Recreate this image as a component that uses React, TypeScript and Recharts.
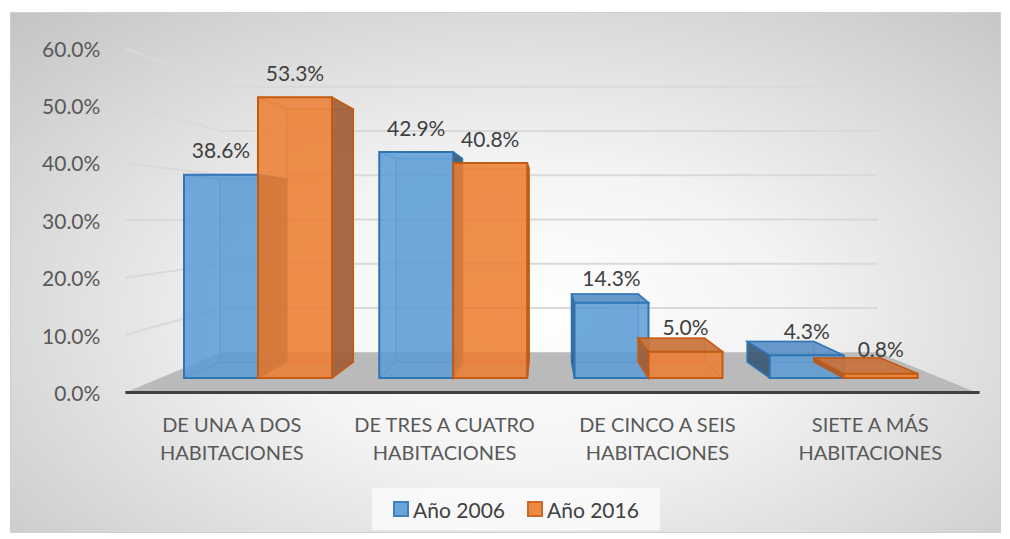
import React from 'react';
import { BarChart, Bar, XAxis, YAxis, CartesianGrid, Legend, LabelList } from 'recharts';

// values (percent)
const categories = [
  'DE UNA A DOS HABITACIONES',
  'DE TRES A CUATRO HABITACIONES',
  'DE CINCO A SEIS HABITACIONES',
  'SIETE A MÁS HABITACIONES',
];
const year2006 = [38.6, 42.9, 14.3, 4.3];
const year2016 = [53.3, 40.8, 5.0, 0.8];
const yTicks = [0, 10, 20, 30, 40, 50, 60];
const seriesNames = ['Año 2006', 'Año 2016'];

const data = categories.map((name, i) => ({ name, a2006: year2006[i], a2016: year2016[i] }));

const FONT = 'Lato, "Open Sans", sans-serif';
const W = 1010;
const H = 539;
const PLOT_LEFT = 160;
const PLOT_RIGHT = 941;
const PLOT_TOP = 62;
const PLOT_BOTTOM = 378;
const Y_AXIS_W = 60;
const X_AXIS_H = 60;
const LEGEND_H = 42;

// fake 3D: everything drawn in the bar plane gets pushed toward a vanishing point
const VP = { x: 545, y: 217 };
const FRONT = 1.09; // plane of the axis labels / floor front edge
const BAR_BACK = 0.9;
const WALL = 0.84;

const proj = (x: number, y: number, s: number): [number, number] => [
  VP.x + (x - VP.x) * s,
  VP.y + (y - VP.y) * s,
];

const pts = (arr: [number, number][]) => arr.map((p) => p.join(',')).join(' ');

const STYLES = {
  blue: { fill: '#5B9BD5', stroke: '#2E75B6', dark: '#3A5773', top: '#5A8FC4' },
  orange: { fill: '#ED7D31', stroke: '#C55A11', dark: '#9E5C36', top: '#C9713A' },
};

function Box3D(props: any) {
  const { x, y, width, height, look } = props;
  if (width == null || height == null) return null;
  const F: [number, number][] = [
    [x, y],
    [x + width, y],
    [x + width, y + height],
    [x, y + height],
  ];
  const B = F.map(([px, py]) => proj(px, py, BAR_BACK));
  const c = look;
  const showRight = B[1][0] > F[1][0];
  const showLeft = B[0][0] < F[0][0];
  const showTop = B[0][1] < F[0][1];
  return (
    <g>
      <polygon points={pts(B)} fill={c.fill} fillOpacity={0.15} stroke={c.stroke} strokeOpacity={0.5} strokeWidth={1.5} />
      {F.map((p, i) => (
        <line key={i} x1={p[0]} y1={p[1]} x2={B[i][0]} y2={B[i][1]} stroke={c.stroke} strokeOpacity={0.5} strokeWidth={1.5} />
      ))}
      {showRight && (
        <polygon points={pts([F[1], F[2], B[2], B[1]])} fill={c.dark} fillOpacity={0.9} stroke={c.stroke} strokeWidth={1.5} />
      )}
      {showLeft && (
        <polygon points={pts([F[0], F[3], B[3], B[0]])} fill={c.dark} fillOpacity={0.9} stroke={c.stroke} strokeWidth={1.5} />
      )}
      {showTop && (
        <polygon points={pts([F[0], F[1], B[1], B[0]])} fill={c.top} fillOpacity={0.9} stroke={c.stroke} strokeWidth={1.5} />
      )}
      <polygon points={pts(F)} fill={c.fill} fillOpacity={0.85} stroke={c.stroke} strokeWidth={2} />
    </g>
  );
}

const GridLine = (p: any) => {
  const y = p.y1;
  if (Math.abs(y - PLOT_BOTTOM) < 1) {
    const fl = proj(PLOT_LEFT, y, FRONT);
    const fr = proj(PLOT_RIGHT, y, FRONT);
    const br = proj(PLOT_RIGHT, y, WALL);
    const bl = proj(PLOT_LEFT, y, WALL);
    return (
      <g key={p.key}>
        <polygon points={pts([fl, fr, br, bl])} fill="#bababa" />
        <line x1={fl[0]} y1={fl[1]} x2={fr[0] + 3} y2={fr[1]} stroke="#404040" strokeWidth={3} />
      </g>
    );
  }
  const a = proj(PLOT_LEFT, y, FRONT);
  const b = proj(PLOT_LEFT, y, WALL);
  const c = proj(PLOT_RIGHT, y, WALL);
  return <polyline key={p.key} points={pts([a, b, c])} fill="none" stroke="#d9d9d9" strokeWidth={2} />;
};

const YTick = (p: any) => {
  const [px, py] = proj(PLOT_LEFT, p.y, FRONT);
  return (
    <text x={px - 25} y={py} textAnchor="end" dominantBaseline="central" fill="#595959" fontSize={21} fontFamily={FONT}>
      {`${Number(p.payload.value).toFixed(1)}%`}
    </text>
  );
};

const XTick = (p: any) => {
  const [px, py] = proj(p.x, PLOT_BOTTOM, FRONT);
  const words = String(p.payload.value).split(' ');
  const first = words.slice(0, -1).join(' ');
  const second = words[words.length - 1];
  return (
    <g>
      <text x={px} y={py + 32} textAnchor="middle" dominantBaseline="central" fill="#595959" fontSize={20} fontFamily={FONT}>
        {first}
      </text>
      <text x={px} y={py + 60} textAnchor="middle" dominantBaseline="central" fill="#595959" fontSize={20} fontFamily={FONT}>
        {second}
      </text>
    </g>
  );
};

const valueLabel = (p: any) => (
  <text
    x={p.x + p.width / 2}
    y={p.y - 25}
    textAnchor="middle"
    dominantBaseline="central"
    fill="#404040"
    fontSize={21}
    fontFamily={FONT}
  >
    {`${Number(p.value).toFixed(1)}%`}
  </text>
);

const LegendBox = (props: any) => {
  const items = props.payload || [];
  return (
    <div
      style={{
        display: 'flex',
        alignItems: 'center',
        justifyContent: 'center',
        gap: 22,
        width: '100%',
        height: '100%',
        background: 'rgba(250,250,250,0.85)',
        fontFamily: FONT,
        fontSize: 21,
        color: '#404040',
      }}
    >
      {items.map((it: any) => {
        const look = it.value === seriesNames[0] ? STYLES.blue : STYLES.orange;
        return (
          <div key={it.value} style={{ display: 'flex', alignItems: 'center', gap: 4 }}>
            <span
              style={{
                display: 'inline-block',
                width: 12,
                height: 12,
                background: look.fill,
                opacity: 0.9,
                border: `2px solid ${look.stroke}`,
              }}
            />
            <span>{it.value}</span>
          </div>
        );
      })}
    </div>
  );
};

export default function App() {
  return (
    <div style={{ position: 'absolute', left: 0, top: 0, width: W, height: H, background: '#fff' }}>
      <div
        style={{
          position: 'absolute',
          left: 10,
          top: 12,
          width: 989,
          height: 519,
          border: '1px solid #d0d0d0',
          background: 'radial-gradient(ellipse farthest-corner at 52% 58%, #ffffff 0%, #f4f4f4 35%, #c4c4c4 100%)',
        }}
      />
      <div style={{ position: 'absolute', left: 0, top: 0 }}>
        <BarChart
          width={W}
          height={H}
          data={data}
          barGap={0}
          margin={{
            top: PLOT_TOP,
            right: W - PLOT_RIGHT,
            left: PLOT_LEFT - Y_AXIS_W,
            bottom: H - PLOT_BOTTOM - X_AXIS_H - LEGEND_H,
          }}
        >
          <CartesianGrid vertical={false} horizontal={GridLine} />
          <XAxis dataKey="name" axisLine={false} tickLine={false} height={X_AXIS_H} tick={XTick} interval={0} />
          <YAxis
            width={Y_AXIS_W}
            domain={[0, 60]}
            ticks={yTicks}
            axisLine={false}
            tickLine={false}
            tick={YTick}
          />
          <Legend
            content={LegendBox}
            wrapperStyle={{ position: 'absolute', left: 372, top: 488, width: 288, height: LEGEND_H, bottom: 'auto' }}
          />
          <Bar
            dataKey="a2006"
            name={seriesNames[0]}
            fill={STYLES.blue.fill}
            barSize={74}
            isAnimationActive={false}
            shape={(p: any) => <Box3D {...p} look={STYLES.blue} />}
          >
            <LabelList dataKey="a2006" content={valueLabel} />
          </Bar>
          <Bar
            dataKey="a2016"
            name={seriesNames[1]}
            fill={STYLES.orange.fill}
            barSize={74}
            isAnimationActive={false}
            shape={(p: any) => <Box3D {...p} look={STYLES.orange} />}
          >
            <LabelList dataKey="a2016" content={valueLabel} />
          </Bar>
        </BarChart>
      </div>
    </div>
  );
}
